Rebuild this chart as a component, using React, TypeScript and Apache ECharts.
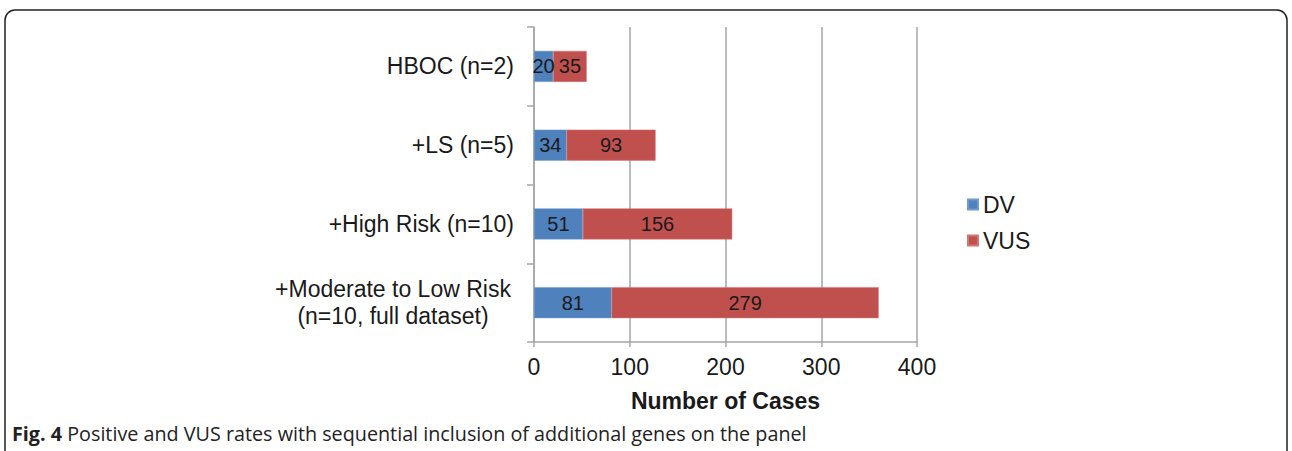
import React, { useEffect, useRef } from "react";
import * as echarts from "echarts";

const categories = [
  "HBOC (n=2)",
  "+LS (n=5)",
  "+High Risk (n=10)",
  "+Moderate to Low Risk\n(n=10, full dataset)",
];
const dvValues = [20, 34, 51, 81];
const vusValues = [35, 93, 156, 279];
const xTicks = [0, 100, 200, 300, 400];

const FONT = "'Liberation Sans', Arial, sans-serif";

export default function App() {
  const ref = useRef<HTMLDivElement>(null);
  useEffect(() => {
    if (!ref.current) return;
    const chart = echarts.init(ref.current, null, { renderer: "svg" });
    const labelStyle = {
      show: true,
      position: "inside",
      color: "#1a1a1a",
      fontFamily: FONT,
      fontSize: 20,
    };
    chart.setOption({
      animation: false,
      backgroundColor: "#ffffff",
      grid: { left: 534, right: 375, top: 27, bottom: 109, containLabel: false },
      legend: {
        orient: "vertical",
        left: 962,
        top: 188,
        itemWidth: 10,
        itemHeight: 10,
        itemGap: 13,
        icon: "rect",
        textStyle: { fontFamily: FONT, fontSize: 23, color: "#1a1a1a" },
        data: ["DV", "VUS"],
      },
      xAxis: {
        type: "value",
        min: xTicks[0],
        max: xTicks[xTicks.length - 1],
        interval: 100,
        name: "Number of Cases",
        nameLocation: "middle",
        nameGap: 47,
        nameTextStyle: { fontFamily: FONT, fontSize: 23, fontWeight: "bold", color: "#1a1a1a" },
        axisLine: { show: true, lineStyle: { color: "#a6a6a6", width: 1.5 } },
        axisTick: { show: true, length: 5, lineStyle: { color: "#a6a6a6", width: 1.5 } },
        axisLabel: { fontFamily: FONT, fontSize: 23, color: "#1a1a1a", margin: 13 },
        splitLine: { show: true, lineStyle: { color: "#a6a6a6", width: 1.5 } },
      },
      yAxis: {
        type: "category",
        data: categories,
        inverse: true,
        axisLine: { show: true, lineStyle: { color: "#a6a6a6", width: 1.5 } },
        axisTick: { show: true, length: 7, alignWithLabel: false, lineStyle: { color: "#a6a6a6", width: 1.5 } },
        axisLabel: {
          fontFamily: FONT,
          fontSize: 23,
          color: "#1a1a1a",
          margin: 20,
          lineHeight: 27,
          formatter: (v: string) => {
            if (v.indexOf("\n") >= 0) {
              return v
                .split("\n")
                .map((l) => "{c|" + l + "}")
                .join("\n");
            }
            return v;
          },
          rich: {
            c: {
              width: 242,
              align: "center",
              fontFamily: FONT,
              fontSize: 23,
              color: "#1a1a1a",
              lineHeight: 27,
            },
          },
        },
      },
      series: [
        {
          name: "DV",
          type: "bar",
          stack: "total",
          data: dvValues,
          barWidth: 31,
          itemStyle: { color: "#4f81bd", borderColor: "#6f9bd0", borderWidth: 0.5 },
          label: labelStyle,
        },
        {
          name: "VUS",
          type: "bar",
          stack: "total",
          data: vusValues,
          barWidth: 31,
          itemStyle: { color: "#c0504d", borderColor: "#d37572", borderWidth: 0.5 },
          label: labelStyle,
        },
      ],
      graphic: [
        {
          type: "rect",
          shape: { x: 5, y: 10, width: 1282, height: 480, r: 10 },
          style: { fill: "none", stroke: "#222", lineWidth: 1.5 },
          silent: true,
        },
        {
          type: "text",
          x: 12,
          y: 433,
          style: {
            text: "{b|Fig. 4} Positive and VUS rates with sequential inclusion of additional genes on the panel",
            fontFamily: "'Open Sans', sans-serif",
            fontSize: 19.75,
            fill: "#222",
            verticalAlign: "middle",
            rich: {
              b: { fontFamily: "'Open Sans', sans-serif", fontSize: 19.75, fontWeight: "bold", fill: "#222" },
            },
          },
        },
      ],
    });
    return () => chart.dispose();
  }, []);
  return (
    <div
      ref={ref}
      style={{ position: "fixed", left: 0, top: 0, width: 1292, height: 451 }}
    />
  );
}
